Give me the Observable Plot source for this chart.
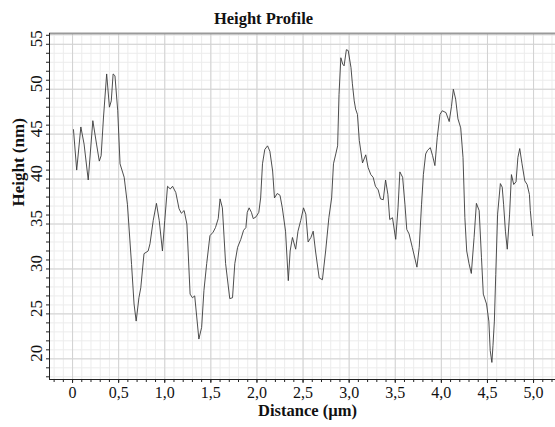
<!DOCTYPE html>
<html>
<head>
<meta charset="utf-8">
<script src="https://cdn.jsdelivr.net/npm/d3@7"></script>
<script src="https://cdn.jsdelivr.net/npm/@observablehq/plot@0.6"></script>
<style>
  html, body { margin: 0; padding: 0; background: #fff; }
</style>
</head>
<body>
<div id="chart"></div>
<script>
const distance = [0.01,0.045,0.09,0.125,0.17,0.22,0.26,0.29,0.31,0.335,0.37,0.40,0.42,0.44,0.46,0.49,0.515,0.56,0.595,0.64,0.667,0.69,0.72,0.74,0.775,0.82,0.84,0.875,0.91,0.94,0.975,1.0,1.03,1.06,1.085,1.12,1.155,1.18,1.21,1.24,1.275,1.30,1.325,1.37,1.40,1.425,1.455,1.49,1.525,1.55,1.58,1.60,1.625,1.66,1.705,1.735,1.76,1.79,1.825,1.855,1.88,1.895,1.915,1.94,1.96,1.99,2.02,2.04,2.06,2.085,2.115,2.14,2.17,2.19,2.22,2.25,2.275,2.31,2.34,2.36,2.385,2.42,2.445,2.475,2.505,2.53,2.555,2.585,2.61,2.635,2.675,2.71,2.745,2.78,2.81,2.83,2.855,2.875,2.89,2.91,2.93,2.945,2.97,2.99,3.02,3.035,3.055,3.07,3.09,3.11,3.145,3.18,3.205,3.235,3.26,3.285,3.315,3.34,3.37,3.395,3.42,3.44,3.47,3.505,3.53,3.55,3.58,3.605,3.625,3.65,3.685,3.735,3.76,3.785,3.805,3.83,3.85,3.88,3.905,3.93,3.955,3.985,4.01,4.05,4.085,4.11,4.13,4.155,4.18,4.21,4.235,4.255,4.275,4.30,4.325,4.355,4.38,4.41,4.435,4.455,4.49,4.515,4.53,4.548,4.56,4.575,4.59,4.61,4.64,4.66,4.675,4.695,4.715,4.74,4.76,4.785,4.81,4.83,4.85,4.875,4.905,4.93,4.955,4.965,4.99];
const height = [45.5,41.0,45.8,43.9,39.9,46.5,43.9,42.0,42.6,46.8,51.7,48.0,48.7,51.7,51.5,47.6,41.7,40.2,37.2,30.5,26.1,24.2,26.8,27.9,31.7,32.0,32.8,35.4,37.3,35.4,32.0,35.4,39.2,38.9,39.2,38.5,36.7,36.2,36.5,35.0,27.2,26.8,27.0,22.2,23.5,27.6,30.6,33.7,34.1,34.6,35.6,37.8,36.8,30.6,26.7,26.8,30.6,32.4,33.3,34.3,34.6,36.3,36.8,36.3,35.6,35.8,36.3,37.9,41.7,43.3,43.7,43.1,40.9,37.9,38.4,38.2,36.8,34.2,28.7,32.0,33.5,32.2,34.2,35.4,36.8,36.1,33.0,33.5,34.2,32.0,29.0,28.8,32.0,35.7,37.9,41.7,42.8,43.7,49.4,53.5,52.8,52.6,54.4,54.3,52.4,50.6,48.7,47.8,47.2,44.3,41.8,42.7,41.3,40.5,40.2,39.2,38.8,37.8,37.7,39.9,38.3,35.5,35.7,33.3,36.8,40.8,40.2,37.2,34.4,33.9,32.4,30.2,32.4,37.2,40.5,42.8,43.2,43.5,42.6,41.5,44.6,47.2,47.6,47.4,46.4,48.1,50.0,48.9,46.7,45.7,42.4,35.7,32.0,30.6,29.5,33.5,37.3,36.5,31.3,27.2,26.1,24.2,20.9,19.6,21.5,24.2,29.4,36.1,39.5,39.1,37.2,34.2,32.2,36.1,40.5,39.4,39.7,42.4,43.4,41.7,39.8,39.4,38.3,36.5,33.7];

const xTicks = [0, 0.5, 1.0, 1.5, 2.0, 2.5, 3.0, 3.5, 4.0, 4.5, 5.0];
const xTickLabels = ["0", "0,5", "1,0", "1,5", "2,0", "2,5", "3,0", "3,5", "4,0", "4,5", "5,0"];
const yTicks = [20, 25, 30, 35, 40, 45, 50, 55];
const yTickLabels = ["20", "25", "30", "35", "40", "45", "50", "55"];
const xMinor = d3.range(-2, 53).map(i => i / 10);
const yMinor = d3.range(18, 57);

const title = "Height Profile";
const xLabel = "Distance (µm)";
const yLabel = "Height (nm)";

const xDomain = [-0.25, 5.238];
const yDomain = [17.7, 56.2];

const data = distance.map((d, i) => ({x: d, y: height[i]}));
const xt = xTicks.map((v, i) => ({v, label: xTickLabels[i]}));
const yt = yTicks.map((v, i) => ({v, label: yTickLabels[i]}));

const serif = "'Liberation Serif', 'Times New Roman', serif";

const chart = Plot.plot({
  width: 555,
  height: 427,
  marginTop: 33,
  marginLeft: 49,
  marginRight: 0,
  marginBottom: 48,
  style: {fontFamily: serif, background: "#fff", overflow: "visible"},
  x: {domain: xDomain, axis: null},
  y: {domain: yDomain, axis: null},
  marks: [
    Plot.ruleX(xMinor.filter(v => v > xDomain[0] && v < xDomain[1]), {stroke: "#ececec", strokeWidth: 1}),
    Plot.ruleY(yMinor.filter(v => v > yDomain[0] && v < yDomain[1]), {stroke: "#ececec", strokeWidth: 1}),
    Plot.ruleX(xTicks, {stroke: "#d2d2d2", strokeWidth: 1}),
    Plot.ruleY(yTicks, {stroke: "#d2d2d2", strokeWidth: 1}),
    Plot.ruleY([yDomain[1]], {stroke: "#9a9a9a", strokeWidth: 2}),
    Plot.line(data, {x: "x", y: "y", stroke: "#3a3a3a", strokeWidth: 0.9}),
    Plot.ruleY([yDomain[0]], {stroke: "#222", strokeWidth: 1}),
    Plot.ruleX([xDomain[0]], {stroke: "#222", strokeWidth: 1}),
    Plot.axisX(xMinor.filter(v => v > xDomain[0] && v < xDomain[1]), {tickSize: 3, tickFormat: () => "", stroke: "#222", label: null}),
    Plot.axisX(xTicks, {tickSize: 4, tickFormat: () => "", stroke: "#222", label: null}),
    Plot.axisY(yMinor.filter(v => v > yDomain[0] && v < yDomain[1]), {tickSize: 3, tickFormat: () => "", stroke: "#222", label: null}),
    Plot.text(xt, {x: "v", text: "label", frameAnchor: "bottom", dy: 18, fontSize: 16, fill: "#111"}),
    Plot.text(yt, {y: "v", text: "label", frameAnchor: "left", dx: -13, dy: 3, rotate: -90, fontSize: 17, fill: "#111"}),
    Plot.text([title], {frameAnchor: "top", dx: -39, dy: -21, fontSize: 16.5, fontWeight: "bold", fill: "#111"}),
    Plot.text([xLabel], {frameAnchor: "bottom", dx: 5, dy: 36, fontSize: 16.5, fontWeight: "bold", fill: "#111"}),
    Plot.text([yLabel], {frameAnchor: "left", dx: -31, rotate: -90, fontSize: 17, fontWeight: "bold", fill: "#111"})
  ]
});
document.getElementById("chart").append(chart);
</script>
</body>
</html>
